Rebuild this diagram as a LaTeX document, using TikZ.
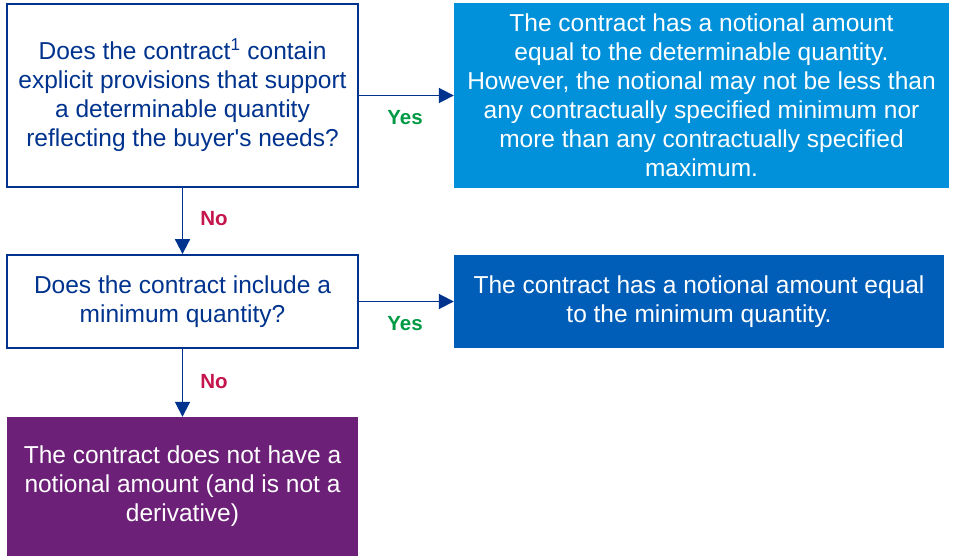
\documentclass[tikz,border=0pt]{standalone}
\usepackage{fontspec}
\setmainfont{Liberation Sans}
\usetikzlibrary{arrows.meta}
\definecolor{kblue}{HTML}{00338D}
\definecolor{klight}{HTML}{0091DA}
\definecolor{kmid}{HTML}{005EB8}
\definecolor{kpurple}{HTML}{6D2077}
\definecolor{kgreen}{HTML}{009A44}
\definecolor{kred}{HTML}{C4154D}
\tikzset{
  qbox/.style={draw=kblue, line width=1.8pt, fill=white, text=kblue, align=center, inner sep=0pt,
    font=\fontsize{24.5}{29}\selectfont},
  abox/.style={draw=none, text=white, align=center, inner sep=0pt,
    font=\fontsize{24.5}{29}\selectfont},
  conn/.style={draw=kblue, line width=1.8pt, -{Triangle[length=15pt,width=15pt]}},
  yeslbl/.style={text=kgreen, font=\fontsize{20.5}{22}\selectfont\bfseries},
  nolbl/.style={text=kred, font=\fontsize{20.5}{22}\selectfont\bfseries}
}
\begin{document}
\begin{tikzpicture}[x=1pt,y=-1pt]
\useasboundingbox (0,0) rectangle (953,556);
\node[qbox, minimum width=351pt, minimum height=183pt] (q1) at (182.5,95.5)
  {Does the contract\textsuperscript{1} contain\\explicit provisions that support\\a determinable quantity\\reflecting the buyer\textquotesingle s needs?};
\node[abox, fill=klight, minimum width=495pt, minimum height=185pt] (a1) at (701.5,95.5)
  {The contract has a notional amount\\equal to the determinable quantity.\\However, the notional may not be less than\\any contractually specified minimum nor\\more than any contractually specified\\maximum.};
\node[qbox, minimum width=351pt, minimum height=93pt] (q2) at (182.5,301.5)
  {Does the contract include a\\minimum quantity?};
\node[abox, fill=kmid, minimum width=490pt, minimum height=93pt] (a2) at (699,301.5)
  {The contract has a notional amount equal\\to the minimum quantity.};
\node[abox, fill=kpurple, minimum width=351pt, minimum height=139pt] (a3) at (182.5,486.5)
  {The contract does not have a\\notional amount (and is not a\\derivative)};
\draw[conn] (q1.east) -- (a1.west |- q1.east);
\draw[conn] (q1.south) -- (q2.north);
\draw[conn] (q2.east) -- (a2.west |- q2.east);
\draw[conn] (q2.south) -- (a3.north);
\node[yeslbl] (y1) at (405,118) {Yes};
\node[yeslbl] (y2) at (405,324) {Yes};
\node[nolbl] (n1) at (214,219) {No};
\node[nolbl] (n2) at (214,382) {No};
\end{tikzpicture}
\end{document}
